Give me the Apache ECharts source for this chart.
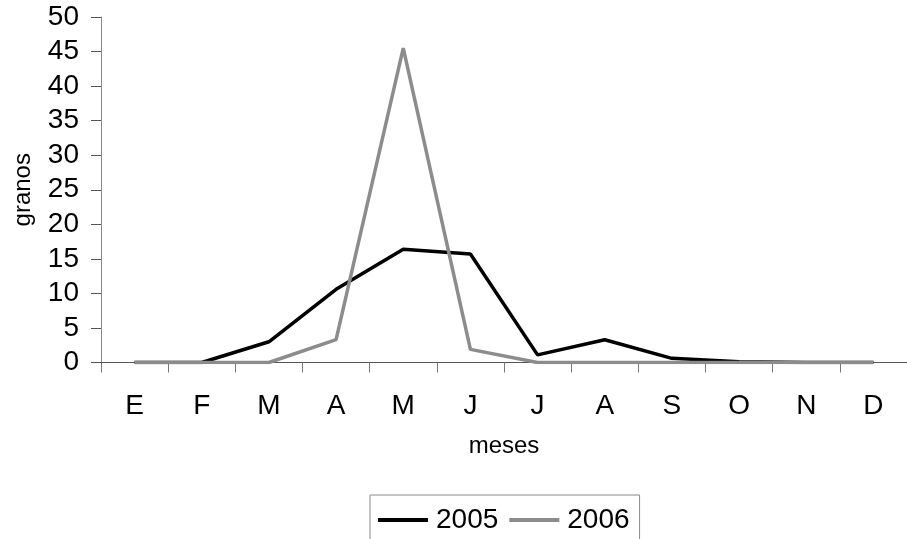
<!DOCTYPE html>
<html><head><meta charset="utf-8">
<script src="https://cdn.jsdelivr.net/npm/echarts@6/dist/echarts.min.js"></script>
<style>html,body{margin:0;padding:0;background:#fff}#c{width:907px;height:539px}</style>
</head><body><div id="c"></div>
<script>
const months = ['E','F','M','A','M','J','J','A','S','O','N','D'];
const s2005 = [0, 0, 3.0, 10.6, 16.4, 15.7, 1.1, 3.3, 0.6, 0.1, 0, 0];
const s2006 = [0, 0, 0, 3.3, 45.5, 1.9, 0, 0, 0, 0, 0, 0];
const yTicks = {min: 0, max: 50, interval: 5};
const FF = 'Liberation Sans, Arial, sans-serif';
const chart = echarts.init(document.getElementById('c'), null, {renderer: 'canvas'});
chart.setOption({
  animation: false,
  backgroundColor: '#fff',
  grid: {left: 101, top: 17, right: -5, height: 345.5},
  xAxis: {
    type: 'category', data: months, boundaryGap: true,
    name: 'meses', nameLocation: 'middle', nameGap: 72,
    nameTextStyle: {fontFamily: FF, fontSize: 24, color: '#000'},
    axisLine: {lineStyle: {color: '#555', width: 1}},
    axisTick: {show: true, inside: false, length: 10, lineStyle: {color: '#777'}},
    axisLabel: {fontFamily: FF, fontSize: 28, color: '#000', margin: 30}
  },
  yAxis: {
    type: 'value', min: yTicks.min, max: yTicks.max, interval: yTicks.interval,
    name: 'granos', nameLocation: 'middle', nameGap: 66, nameRotate: 90,
    nameTextStyle: {fontFamily: FF, fontSize: 24, color: '#000'},
    axisLine: {show: true, lineStyle: {color: '#888', width: 1}},
    axisTick: {show: true, inside: false, length: 10, lineStyle: {color: '#555'}},
    splitLine: {show: false},
    axisLabel: {fontFamily: FF, fontSize: 28, color: '#000', margin: 22}
  },
  legend: {
    top: 495, left: 370,
    data: ['2005', '2006'],
    borderColor: '#888', borderWidth: 1, padding: [11, 10, 14, 8],
    itemWidth: 50, itemHeight: 4, itemGap: 11,
    textStyle: {fontFamily: FF, fontSize: 28, color: '#000', padding: [0, 0, 0, 3]},
    icon: 'rect'
  },
  series: [
    {name: '2005', type: 'line', data: s2005, symbol: 'none', z: 2,
     lineStyle: {color: '#000', width: 3.5}, itemStyle: {color: '#000'}},
    {name: '2006', type: 'line', data: s2006, symbol: 'none', z: 3,
     lineStyle: {color: '#8c8c8c', width: 3.5}, itemStyle: {color: '#8c8c8c'}}
  ]
});
</script></body></html>
